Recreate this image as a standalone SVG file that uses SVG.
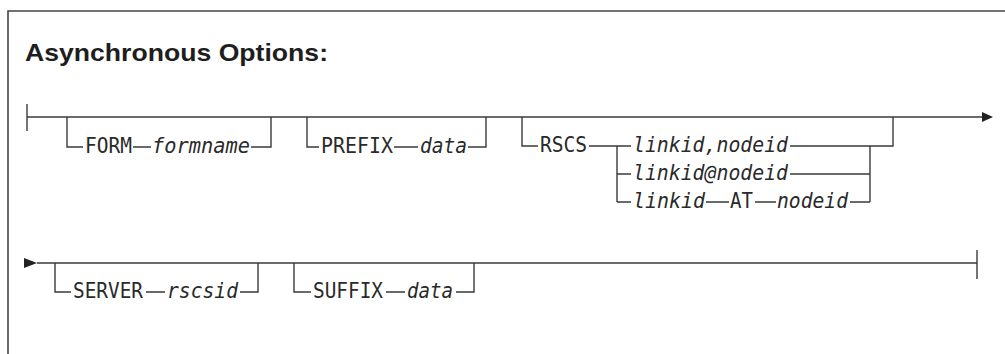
<svg xmlns="http://www.w3.org/2000/svg" width="1005" height="354" viewBox="0 0 1005 354">
  <style>
    .ln { fill: none; stroke: #3a3a3a; stroke-width: 1.4; }
    .kw { font-family: "DejaVu Sans Mono", "Liberation Mono", monospace; font-size: 22px; fill: #2a2a2a; }
    .var { font-family: "DejaVu Sans Mono", "Liberation Mono", monospace; font-size: 22px; font-style: italic; fill: #2a2a2a; }
    .title { font-family: "Liberation Sans", Arial, sans-serif; font-size: 24px; font-weight: bold; fill: #1e1e1e; }
  </style>
  <defs>
    <marker id="arr" markerWidth="12" markerHeight="12" refX="0" refY="5" orient="auto" markerUnits="userSpaceOnUse">
      <path d="M0,0 L11,5 L0,10 Z" fill="#222"/>
    </marker>
  </defs>
  <rect width="1005" height="354" fill="#fff"/>
  <path d="M8,354 V11 H1005" fill="none" stroke="#444" stroke-width="1.6"/>
  <g id="title">
    <text class="title" x="25" y="61" textLength="303" lengthAdjust="spacingAndGlyphs">Asynchronous Options:</text>
  </g>
  <g id="connectors">
    <!-- row 1 -->
    <path class="ln" d="M27,104 V131"/>
    <path class="ln" d="M27,117 H982" marker-end="url(#arr)"/>
    <path class="ln" d="M67,117 V147 H83 M133,147 H151 M251,147 H271 V117"/>
    <path class="ln" d="M307,117 V147 H319 M394,147 H418 M468,147 H486 V117"/>
    <path class="ln" d="M522,117 V146 H538 M589,146 H631 M617,146 V202 M617,174 H631 M617,202 H631"/>
    <path class="ln" d="M790,146 H870 M790,174 H870 M706,202 H729 M755,202 H776 M850,202 H870 M870,202 V146 H893 V117"/>
    <!-- row 2 -->
    <path d="M24,258 L37,263 L24,268 Z" fill="#222"/>
    <path class="ln" d="M37,263 H977"/>
    <path class="ln" d="M977,250 V279"/>
    <path class="ln" d="M55,263 V292 H71 M146,292 H165 M240,292 H258 V263"/>
    <path class="ln" d="M294,263 V292 H311 M386,292 H405 M456,292 H474 V263"/>
  </g>
  <g id="form">
    <text class="kw" x="85" y="153" textLength="47" lengthAdjust="spacingAndGlyphs">FORM</text>
    <text class="var" x="152" y="153" textLength="98" lengthAdjust="spacingAndGlyphs">formname</text>
  </g>
  <g id="prefix">
    <text class="kw" x="321" y="153" textLength="72" lengthAdjust="spacingAndGlyphs">PREFIX</text>
    <text class="var" x="420" y="153" textLength="47" lengthAdjust="spacingAndGlyphs">data</text>
  </g>
  <g id="rscs">
    <text class="kw" x="540" y="152" textLength="47" lengthAdjust="spacingAndGlyphs">RSCS</text>
  </g>
  <g id="rscs-comma">
    <text class="var" x="633" y="152" textLength="155" lengthAdjust="spacingAndGlyphs">linkid,nodeid</text>
  </g>
  <g id="rscs-at-sign">
    <text class="var" x="633" y="180" textLength="155" lengthAdjust="spacingAndGlyphs">linkid@nodeid</text>
  </g>
  <g id="rscs-at">
    <text class="var" x="633" y="208" textLength="72" lengthAdjust="spacingAndGlyphs">linkid</text>
    <text class="kw" x="730" y="208" textLength="23" lengthAdjust="spacingAndGlyphs">AT</text>
    <text class="var" x="777" y="208" textLength="71" lengthAdjust="spacingAndGlyphs">nodeid</text>
  </g>
  <g id="server">
    <text class="kw" x="73" y="298" textLength="70" lengthAdjust="spacingAndGlyphs">SERVER</text>
    <text class="var" x="167" y="298" textLength="71" lengthAdjust="spacingAndGlyphs">rscsid</text>
  </g>
  <g id="suffix">
    <text class="kw" x="313" y="298" textLength="70" lengthAdjust="spacingAndGlyphs">SUFFIX</text>
    <text class="var" x="407" y="298" textLength="46" lengthAdjust="spacingAndGlyphs">data</text>
  </g>
</svg>
